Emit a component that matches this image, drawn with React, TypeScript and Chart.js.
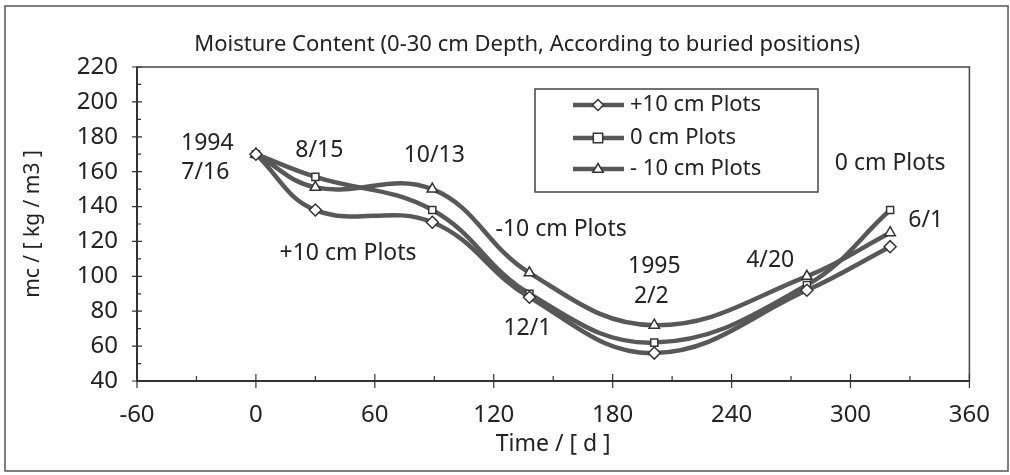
import React, { useEffect, useRef } from "react";
import { Chart, registerables } from "chart.js";

Chart.register(...registerables);

// ---- data ----
const days = [0, 30, 89, 138, 201, 278, 320];
const plus10 = [170, 138, 131, 88, 56, 92, 117];
const zero = [170, 157, 138, 90, 62, 95, 138];
const minus10 = [170, 151, 150, 102, 72, 100, 125];
const seriesLabels = ["+10 cm Plots", "0 cm Plots", "- 10 cm Plots"];
const pointStyles = ["rectRot", "rect", "triangle"];
const xTickValues = [-60, 0, 60, 120, 180, 240, 300, 360];
const yTickValues = [40, 60, 80, 100, 120, 140, 160, 180, 200, 220];
const titleText = "Moisture Content (0-30 cm Depth, According to buried positions)";
const xTitle = "Time / [ d ]";
const yTitle = "mc / [ kg / m3 ]";
// annotation texts, anchored in data units (day, value)
const annoTexts = ["1994", "7/16", "8/15", "10/13", "+10 cm Plots", "-10 cm Plots", "1995", "2/2", "12/1", "4/20", "0 cm Plots", "6/1"];
const annoX = [-24.5, -25.5, 32, 90, 46.5, 154, 201, 199.5, 137, 259.5, 320, 338];
const annoY = [176.4, 159.8, 172.4, 169.5, 113.4, 126.6, 105.6, 88.4, 70.4, 109, 164.5, 132.3];

const FONT = '"Noto Sans", "Open Sans", sans-serif';
const LINE = "#585858";
const INK = "#222";

function drawMarker(ctx: CanvasRenderingContext2D, style: string, x: number, y: number, r: number) {
  ctx.save();
  ctx.beginPath();
  if (style === "rectRot") {
    ctx.moveTo(x, y - r);
    ctx.lineTo(x + r, y);
    ctx.lineTo(x, y + r);
    ctx.lineTo(x - r, y);
    ctx.closePath();
  } else if (style === "rect") {
    const s = r * 0.85;
    ctx.rect(x - s, y - s, 2 * s, 2 * s);
  } else {
    ctx.moveTo(x, y - r);
    ctx.lineTo(x + r * 0.95, y + r * 0.6);
    ctx.lineTo(x - r * 0.95, y + r * 0.6);
    ctx.closePath();
  }
  ctx.fillStyle = "#fff";
  ctx.fill();
  ctx.lineWidth = 1.5;
  ctx.strokeStyle = "#333";
  ctx.stroke();
  ctx.restore();
}

const decorPlugin = {
  id: "decor",
  beforeDatasetsDraw(chart: any) {
    const ctx: CanvasRenderingContext2D = chart.ctx;
    const { left, right, top, bottom } = chart.chartArea;
    const xs = chart.scales.x;
    const ys = chart.scales.y;
    ctx.save();
    // plot border
    ctx.strokeStyle = "#444";
    ctx.lineWidth = 1.5;
    ctx.strokeRect(left, top, right - left, bottom - top);
    // axes
    ctx.strokeStyle = "#333";
    ctx.lineWidth = 2;
    ctx.beginPath();
    ctx.moveTo(left, top);
    ctx.lineTo(left, bottom);
    ctx.lineTo(right, bottom);
    ctx.stroke();
    ctx.lineWidth = 1.2;
    ctx.beginPath();
    for (let i = 0; i < xTickValues.length; i++) {
      const px = xs.getPixelForValue(xTickValues[i]);
      ctx.moveTo(px, bottom - 7);
      ctx.lineTo(px, bottom + 7);
      if (i < xTickValues.length - 1) {
        const mx = xs.getPixelForValue((xTickValues[i] + xTickValues[i + 1]) / 2);
        ctx.moveTo(mx, bottom - 5);
        ctx.lineTo(mx, bottom);
      }
    }
    for (let i = 0; i < yTickValues.length; i++) {
      const py = ys.getPixelForValue(yTickValues[i]);
      ctx.moveTo(left - 5, py);
      ctx.lineTo(left + 5, py);
      if (i < yTickValues.length - 1) {
        const my = ys.getPixelForValue((yTickValues[i] + yTickValues[i + 1]) / 2);
        ctx.moveTo(left, my);
        ctx.lineTo(left + 4, my);
      }
    }
    ctx.stroke();
    ctx.restore();
  },
  afterDraw(chart: any) {
    const ctx: CanvasRenderingContext2D = chart.ctx;
    const xs = chart.scales.x;
    const ys = chart.scales.y;
    const { left, right, top } = chart.chartArea;
    ctx.save();
    // outer border
    ctx.strokeStyle = "#555";
    ctx.lineWidth = 1.5;
    ctx.strokeRect(5, 6, 1003, 465);
    // title
    ctx.fillStyle = INK;
    ctx.font = `22px ${FONT}`;
    ctx.textAlign = "center";
    ctx.textBaseline = "middle";
    ctx.fillText(titleText, (left + right) / 2 - 26, top - 22);
    // annotations
    ctx.font = `23px ${FONT}`;
    for (let i = 0; i < annoTexts.length; i++) {
      ctx.fillText(annoTexts[i], xs.getPixelForValue(annoX[i]), ys.getPixelForValue(annoY[i]));
    }
    // legend
    const bx = 535, by = 89, bw = 283, bh = 103;
    ctx.fillStyle = "#fff";
    ctx.fillRect(bx, by, bw, bh);
    ctx.strokeStyle = "#444";
    ctx.lineWidth = 1.5;
    ctx.strokeRect(bx, by, bw, bh);
    const rowsY = [105, 138, 169];
    for (let i = 0; i < 3; i++) {
      const yy = rowsY[i];
      ctx.strokeStyle = LINE;
      ctx.lineWidth = 4.5;
      ctx.beginPath();
      ctx.moveTo(573, yy);
      ctx.lineTo(624, yy);
      ctx.stroke();
      drawMarker(ctx, pointStyles[i], 598, yy, 5.5);
      ctx.fillStyle = INK;
      ctx.textAlign = "left";
      ctx.textBaseline = "middle";
      ctx.font = `22px ${FONT}`;
      ctx.fillText(seriesLabels[i], 630, yy);
    }
    ctx.restore();
  },
};

export default function App() {
  const ref = useRef<HTMLCanvasElement>(null);
  useEffect(() => {
    document.body.style.margin = "0";
    const seriesData = [plus10, zero, minus10];
    const chart = new Chart(ref.current!, {
      type: "line",
      data: {
        datasets: seriesData.map((vals, i) => ({
          label: seriesLabels[i],
          data: days.map((d, j) => ({ x: d, y: vals[j] })),
          borderColor: LINE,
          borderWidth: 4.5,
          tension: 0.4,
          pointStyle: pointStyles[i] as any,
          pointRadius: i === 1 ? 5 : 6,
          pointBackgroundColor: "#fff",
          pointBorderColor: "#333",
          pointBorderWidth: 1.5,
        })),
      },
      options: {
        animation: false,
        responsive: false,
        maintainAspectRatio: false,
        layout: { padding: { top: 67, right: 33, left: 0, bottom: 0 } },
        plugins: { legend: { display: false }, tooltip: { enabled: false }, title: { display: false } },
        scales: {
          x: {
            type: "linear",
            min: -60,
            max: 360,
            afterBuildTicks: (s: any) => { s.ticks = xTickValues.map((v) => ({ value: v })); },
            afterFit: (s: any) => { s.height = 94; },
            grid: { display: false, drawTicks: false },
            border: { display: false },
            ticks: { color: INK, font: { family: FONT, size: 24 }, padding: 20, maxRotation: 0 },
            title: { display: true, text: xTitle, color: INK, font: { family: FONT, size: 23 }, padding: { top: 0, bottom: 17 } },
          },
          y: {
            type: "linear",
            min: 40,
            max: 220,
            afterBuildTicks: (s: any) => { s.ticks = yTickValues.map((v) => ({ value: v })); },
            afterFit: (s: any) => { s.width = 137; },
            grid: { display: false, drawTicks: false },
            border: { display: false },
            ticks: { color: INK, font: { family: FONT, size: 24 }, padding: 19 },
            title: { display: true, text: yTitle, color: INK, font: { family: FONT, size: 21 }, padding: { top: 20, bottom: 0 } },
          },
        },
      },
      plugins: [decorPlugin],
    });
    return () => chart.destroy();
  }, []);
  return <canvas ref={ref} width={1010} height={475} style={{ display: "block" }} />;
}
